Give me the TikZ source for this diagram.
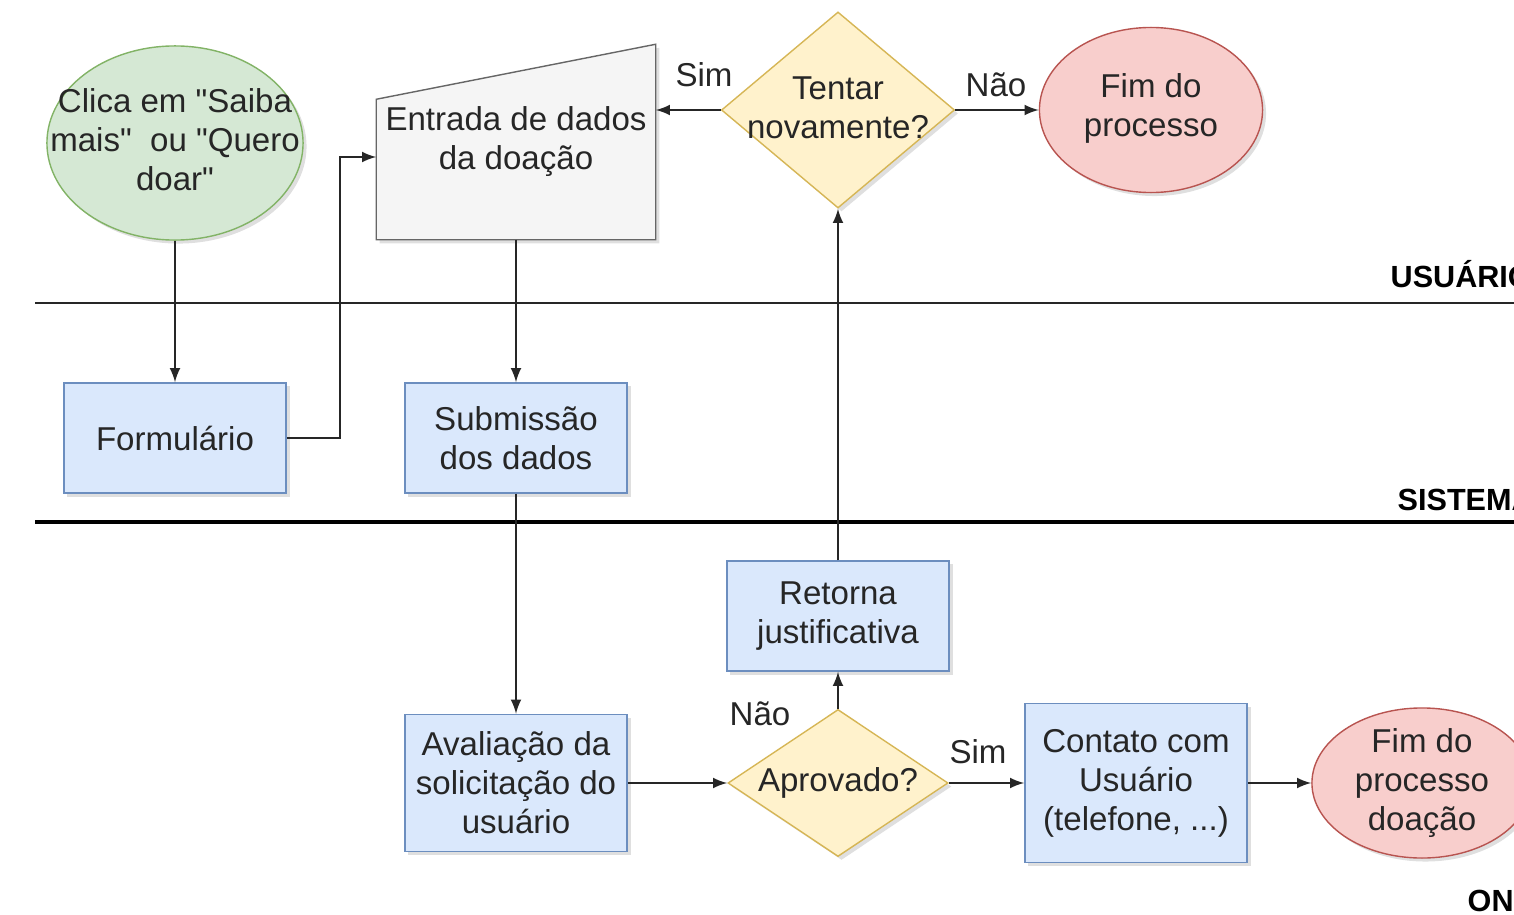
\documentclass[tikz,border=0pt]{standalone}
\usepackage{fontspec}
\setmainfont{Liberation Sans}[Ligatures=TeXOff]
\usetikzlibrary{shapes.geometric, arrows, positioning, shadows, backgrounds}
\usepackage{xcolor}
\definecolor{bluefill}{HTML}{DAE8FC}
\definecolor{bluedraw}{HTML}{6C8EBF}
\definecolor{yelfill}{HTML}{FFF2CC}
\definecolor{yeldraw}{HTML}{D6B656}
\definecolor{redfill}{HTML}{F8CECC}
\definecolor{reddraw}{HTML}{B85450}
\definecolor{grnfill}{HTML}{D5E8D4}
\definecolor{grndraw}{HTML}{82B366}
\definecolor{gryfill}{HTML}{F5F5F5}
\definecolor{grydraw}{HTML}{666666}

\begin{document}
\begin{tikzpicture}[%
    x=0.01cm, y=-0.01cm,
    >=latex,
    every node/.style={%
      font=\fontsize{9.4}{11.1}\selectfont,
      text=black!85,
      text centered,
      align=center
    },
    softshadow/.style={drop shadow={shadow xshift=0.035cm,
      shadow yshift=-0.035cm, opacity=0.25}},
    proc/.style={rectangle, draw=bluedraw, fill=bluefill, inner sep=2pt,
      minimum width=2.22cm, minimum height=1.1cm, softshadow},
    decis/.style={diamond, draw=yeldraw, fill=yelfill, inner sep=0pt, softshadow},
    endpt/.style={ellipse, inner sep=0pt, softshadow},
    lane/.style={draw=black!85, line width=0.8pt},
    lanelbl/.style={font=\fontsize{8.7}{10}\selectfont\bfseries, text=black,
      inner sep=0pt, anchor=base west},
    flow/.style={->, draw=black!85}
  ]

  \useasboundingbox (0,0) rectangle (1514,915);
  \clip (0,0) rectangle (1514,915);

  % Lanes
  \draw[lane] (35,303) -- (1514,303);
  \draw[lane, line width=1.1pt, draw=black] (35,522) -- (1514,522);
  \node[lanelbl] (usuario) at (1390,287) {USUÁRIO};
  \node[lanelbl] (sistema) at (1397,510) {SISTEMA};
  \node[lanelbl] (ong) at (1467,911) {ONG};

  % Usuario
  \node[endpt, draw=grndraw, fill=grnfill, minimum width=2.56cm, minimum height=1.94cm]
    (clica) at (175,143) {};
  \node (clicatxt) at (175,140) {Clica em "Saiba\\mais"~ ou "Quero\\doar"};

  \node[inner sep=0pt, minimum width=2.78cm, minimum height=1.94cm] (entrada) at (516,142)
    {Entrada de dados\\da doação};
  \begin{scope}[on background layer]
    \draw[draw=grydraw, fill=gryfill, softshadow]
      (entrada.south west) -- (entrada.south east) -- (entrada.north east)
      -- ([yshift=-0.55cm]entrada.north west) -- cycle;
  \end{scope}

  \node[decis, minimum width=2.33cm, minimum height=1.96cm] (tentar) at (838,110) {};
  \node (tentartxt) at (838,108) {Tentar\\novamente?};

  \node[endpt, draw=reddraw, fill=redfill, minimum width=2.23cm, minimum height=1.65cm]
    (fim1) at (1151,110) {};
  \node (fim1txt) at (1151,108) {Fim do\\processo};

  % Sistema
  \node[proc] (form) at (175,438) {Formulário};
  \node[proc] (subm) at (516,438) {Submissão\\dos dados};

  % ONG
  \node[proc, minimum height=1.37cm] (aval) at (516,783)
    {Avaliação da\\solicitação do\\usuário};
  \node[decis, minimum width=2.2cm, minimum height=1.47cm] (aprov) at (838,783) {};
  \node (aprovtxt) at (838,783) {Aprovado?};
  \node[proc, above=0.37cm of aprov] (retorna) {Retorna\\justificativa};
  \node[proc, minimum height=1.59cm] (contato) at (1136,783)
    {Contato com\\Usuário\\(telefone, ...)};
  \node[endpt, draw=reddraw, fill=redfill, minimum width=2.2cm, minimum height=1.5cm]
    (fim2) at (1422,783) {};
  \node (fim2txt) at (1422,783) {Fim do\\processo\\doação};

  % Edge labels
  \node (sim1) at (704,75) {Sim};
  \node (nao1) at (996,85) {Não};
  \node (nao2) at (760,714) {Não};
  \node (sim2) at (978,752) {Sim};

  % Connectors
  \draw[flow] (clica.south) -- (form.north);
  \draw[flow] (form.east) -| ([xshift=-0.36cm, yshift=-0.15cm]entrada.west)
    -- ([yshift=-0.15cm]entrada.west);
  \draw[flow] (entrada.south) -- (subm.north);
  \draw[flow] (subm.south) -- (aval.north);
  \draw[flow] (aval.east) -- (aprov.west);
  \draw[flow] (aprov.north) -- (retorna.south);
  \draw[flow] (retorna.north) -- (tentar.south);
  \draw[flow] (tentar.west) -- (entrada.east |- tentar.west);
  \draw[flow] (tentar.east) -- (fim1.west);
  \draw[flow] (aprov.east) -- (contato.west);
  \draw[flow] (contato.east) -- (fim2.west);

\end{tikzpicture}
\end{document}
